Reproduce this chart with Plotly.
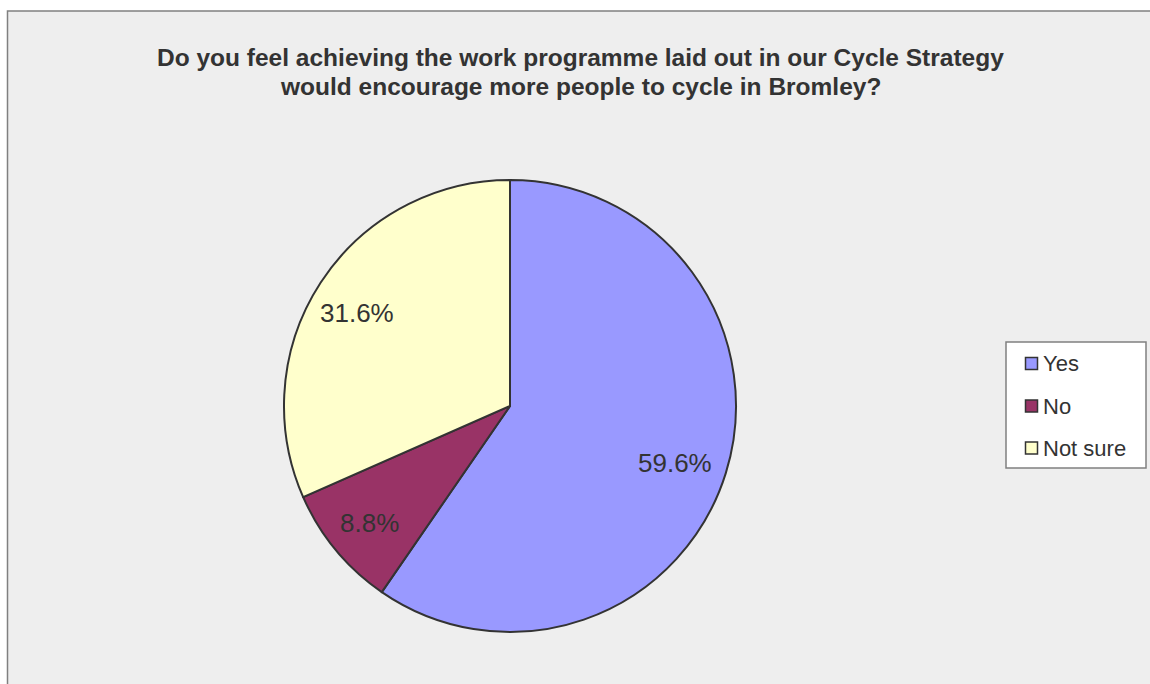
import math
import plotly.graph_objects as go

categories = ["Yes", "No", "Not sure"]
values = [59.6, 8.8, 31.6]
colors = ["#9999FF", "#993366", "#FFFFCC"]
title_lines = ["Do you feel achieving the work programme laid out in our Cycle Strategy",
               "would encourage more people to cycle in Bromley?"]

W, H = 1150, 684
CX, CY, R = 510, 406, 226
FONT = "Liberation Sans, Arial"

def px(x):
    return x / W

def py(y):
    return 1 - y / H

fig = go.Figure()
fig.add_trace(go.Pie(
    labels=categories, values=values, sort=False, direction="clockwise", rotation=0,
    marker=dict(colors=colors, line=dict(color="#333333", width=2)),
    textinfo="none", hoverinfo="label+percent", showlegend=False,
    domain=dict(x=[px(CX - R), px(CX + R)], y=[py(CY + R), py(CY - R)]),
))

annotations = []
shapes = []
# chart area background with border
shapes.append(dict(type="rect", xref="paper", yref="paper", x0=px(7.5), x1=px(1175), y0=py(710), y1=py(11),
                   fillcolor="#EEEEEE", line=dict(color="#808080", width=1.5), layer="below"))

# data labels
total = sum(values)
cum = 0
for v in values:
    mid = (cum + v / 2) / total * 2 * math.pi
    cum += v
    r = 0.785 * R
    x = CX + r * math.sin(mid)
    y = CY - r * math.cos(mid)
    annotations.append(dict(x=px(x - 4), y=py(y + 4), xref="paper", yref="paper", text=f"{v:.1f}%",
                            showarrow=False, font=dict(size=26, color="#333333", family=FONT),
                            xanchor="center", yanchor="middle"))

# title
for i, line in enumerate(title_lines):
    annotations.append(dict(x=px(580), y=py(57 + 29 * i), xref="paper", yref="paper", text=f"<b>{line}</b>",
                            showarrow=False, font=dict(size=24.5, color="#333333", family=FONT),
                            xanchor="center", yanchor="middle"))

# legend (manual)
shapes.append(dict(type="rect", xref="paper", yref="paper", x0=px(1006), x1=px(1146), y0=py(468), y1=py(342),
                   fillcolor="#FFFFFF", line=dict(color="#808080", width=1.5)))
rows = [363.5, 406, 448]
for cat, col, ry in zip(categories, colors, rows):
    shapes.append(dict(type="rect", xref="paper", yref="paper", x0=px(1025.5), x1=px(1037.5), y0=py(ry + 6),
                       y1=py(ry - 6), fillcolor=col, line=dict(color="#333333", width=1.5)))
    annotations.append(dict(x=px(1041), y=py(ry), xref="paper", yref="paper", text=cat, showarrow=False,
                            font=dict(size=22, color="#333333", family=FONT),
                            xanchor="left", yanchor="middle"))

fig.update_layout(
    width=W, height=H, margin=dict(l=0, r=0, t=0, b=0),
    paper_bgcolor="#FFFFFF", plot_bgcolor="#FFFFFF",
    shapes=shapes, annotations=annotations, showlegend=False,
)
fig.write_html("out.html", config={"displayModeBar": False},
               post_script="document.body.style.margin='0';document.body.style.overflow='hidden';")
